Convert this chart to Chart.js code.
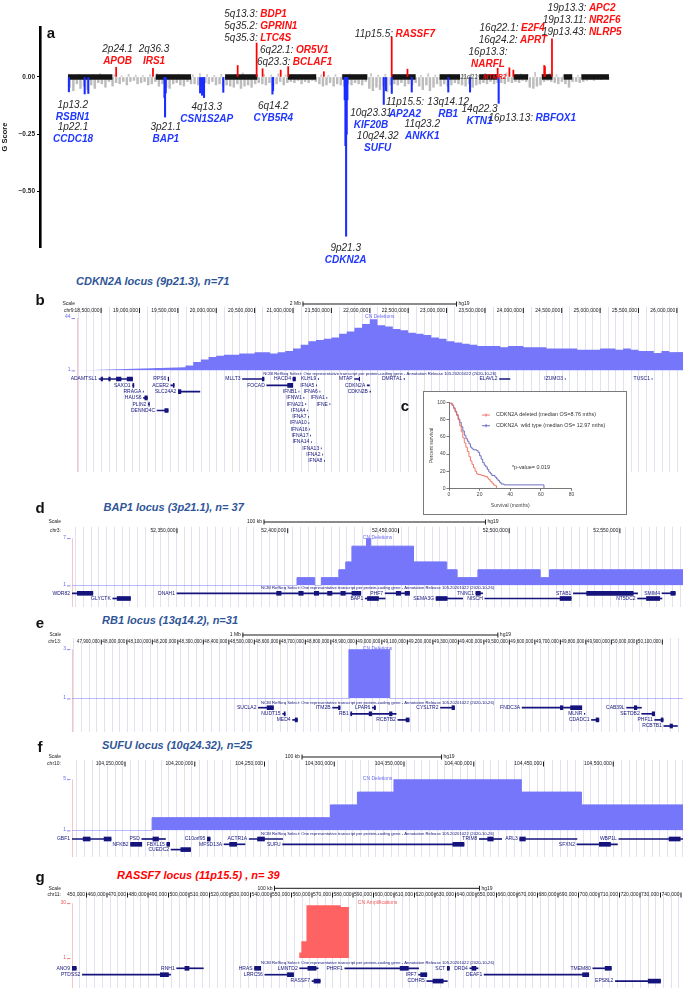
<!DOCTYPE html>
<html><head><meta charset="utf-8">
<script src="https://cdn.jsdelivr.net/npm/chart.js@4.4.1/dist/chart.umd.min.js"></script>
<style>
html,body{margin:0;padding:0;background:#fff;}
#root{position:relative;width:691px;height:992px;overflow:hidden;background:#fff;}
#root canvas{position:absolute;}
.t{position:absolute;white-space:nowrap;line-height:1;z-index:6;}
.box{position:absolute;box-sizing:border-box;border:1.5px solid #7a7a7a;background:#fff;z-index:3;}
</style></head><body><div id="root"></div>
<script>
// ================= DATA =================
// Panel a: genome-wide G score (hg19 chromosome lengths, Mb)
const chrLen = [249,243,198,191,181,171,159,146,141,136,135,134,115,107,103,90,81,78,59,63,48,51,155];
// background (non-significant) deletion G scores, one value per 20 Mb window
const grayDel = [
 -0.045,-0.06,-0.03,-0.05,-0.04,-0.055,-0.035,-0.05,-0.025,-0.03,-0.045,-0.02,-0.04,
 -0.025,-0.03,-0.02,-0.035,-0.02,-0.015,-0.03,-0.025,-0.02,-0.035,-0.03,-0.02,
 -0.04,-0.03,-0.045,-0.05,-0.03,-0.025,-0.035,-0.04,-0.02,-0.03,
 -0.03,-0.035,-0.04,-0.025,-0.03,-0.02,-0.035,-0.03,-0.04,
 -0.035,-0.04,-0.045,-0.03,-0.05,-0.04,-0.035,-0.045,-0.03,-0.025,
 -0.03,-0.035,-0.025,-0.04,-0.03,-0.02,-0.035,-0.025,
 -0.02,-0.025,-0.015,-0.03,-0.02,-0.025,-0.015,-0.02,
 -0.03,-0.04,-0.035,-0.025,-0.04,-0.03,-0.035,
 -0.04,-0.03,-0.035,-0.025,-0.03,-0.035,-0.02,
 -0.05,-0.06,-0.045,-0.055,-0.04,-0.065,-0.035,
 -0.03,-0.035,-0.025,-0.04,-0.03,-0.035,-0.025,
 -0.04,-0.055,-0.035,-0.06,-0.045,-0.03,-0.04,
 -0.03,-0.04,-0.035,-0.025,-0.03,
 -0.035,-0.04,-0.03,-0.045,-0.035,-0.03,
 -0.025,-0.03,-0.02,-0.03,-0.025,
 -0.025,-0.03,-0.02,-0.025,
 -0.02,-0.025,-0.015,-0.02,
 -0.045,-0.05,-0.04,-0.035,
 -0.02,-0.015,-0.02,
 -0.025,-0.03,-0.02,
 -0.03,-0.045,-0.02,
 -0.02,-0.025,
 -0.02,-0.015,-0.01,-0.015,-0.01,-0.012,-0.008,-0.01];
// background amplification G scores, one value per 40 Mb window
const grayAmp = [0.008,0.012,0.006,0.01,0.015,0.007,0.01,0.005,0.012,0.008,0.006,0.01,0.014,0.008,0.01,0.012,0.006,0.009,0.015,0.01,
 0.007,0.012,0.008,0.011,0.018,0.01,0.006,0.012,0.009,0.014,0.008,0.006,0.01,0.007,0.012,0.009,0.006,0.01,0.008,0.013,
 0.007,0.01,0.015,0.008,0.012,0.006,0.01,0.009,0.011,0.007,0.014,0.008,0.01,0.012,0.006,0.009,0.013,0.008,0.016,0.01,
 0.012,0.018,0.009,0.014,0.011,0.02,0.012,0.016,0.01,0.008,0.012,0.006,0.008,0.005,0.006,0.004];
// significant deletion peaks (cumulative genome position, Mb) and G score
const sigDelPos = [5,93.6,114,541,544.4,548,741,752,763,871,1146.6,1150,1552,1556,1559.9,1563,1567,1771,1783,1816,1928,2133,2255,2415.5];
const sigDelG   = [-0.065,-0.074,-0.072,-0.09,-0.175,-0.07,-0.07,-0.08,-0.09,-0.067,-0.075,-0.06,-0.1,-0.3,-0.695,-0.25,-0.1,-0.12,-0.06,-0.072,-0.066,-0.066,-0.066,-0.115];
// significant amplification peaks
const sigAmpPos = [270.2,476.6,951.7,1058,1091.3,1193,1235,1435,1815.6,1904,2409.8,2475.6,2497.9,2671,2675,2714.5];
const sigAmpG   = [0.042,0.038,0.05,0.148,0.036,0.03,0.045,0.023,0.175,0.034,0.038,0.04,0.03,0.05,0.045,0.166];
const gTickVals = [0,-0.25,-0.5];
const gTickLabels = ['0.00','\u22120.25','\u22120.50'];

// peak annotations [cytoband, gene, x, y...]
const ampInline = [['5q13.3:','BDP1',257.7,14],['5q35.2:','GPRIN1',257.7,26],['5q35.3:','LTC4S',257.7,38],
 ['6q22.1:','OR5V1',293.4,50.3],['6q23.3:','BCLAF1',290.3,61.7],['11p15.5:','RASSF7',393,34],
 ['16q22.1:','E2F4',518.5,28],['16q24.2:','APRT',517.6,40],
 ['19p13.3:','APC2',586.4,8],['19p13.11:','NR2F6',586.4,20],['19p13.43:','NLRP5',586.4,32.3]];
const ampStack = [['2p24.1','APOB',117.6,49.3,61.3],['2q36.3','IRS1',154,49.3,61.3],['16p13.3:','NARFL',488,52.3,64]];
const delStack = [['1p13.2','RSBN1',72.7,105,116.7],['1p22.1','CCDC18',73,127.3,139],['3p21.1','BAP1',165.8,127.3,139],
 ['4q13.3','CSN1S2AP',206.7,107.3,119.3],['6q14.2','CYB5R4',273.3,105.7,117.7],['9p21.3','CDKN2A',345.7,247.7,259.7],
 ['10q23.31','KIF20B',371,113.3,125.3],['10q24.32','SUFU',377.7,136,147.7],['11p15.5:','AP2A2',405,102.3,114.3],
 ['11q23.2','ANKK1',422.3,124,135.7],['13q14.12','RB1',448.2,101.7,114],['14q22.3','KTN1',479.6,109.3,121.3]];
const delInline = [['16p13.13:','RBFOX1',533,118.3]];

// Panel b: CDKN2A locus, CN deletions per 0.1 Mb bin from 18.2 Mb
const covBFirst = 18.2, covBBin = 0.1;
const covB = [1,1,1,1,1,1,1,1,1,1, 3,1,2,3,5,8,10,12,13,14, 14,15,15,16,16,15,16,17,19,22,
 25,26,27,28,31,33,36,39,43,38, 37,35,34,32,31,30,28,27,25,24, 23,22,21,21,21,20,21,21,20,20,
 20,19,19,19,19,18,18,18,19,19, 18,19,18,17,17,14,17,16,16,16];
const ticksB = [18.5,19,19.5,20,20.5,21,21.5,22,22.5,23,23.5,24,24.5,25,25.5,26];
const genesB = [['ADAMTSL1',18.474,18.911,0],['RPS6',19.376,19.380,0],['MLLT3',20.342,20.622,0],['HACD4',20.999,21.032,0],
 ['KLHL9',21.329,21.335,0],['MTAP',21.802,21.868,0],['DMRTA1',22.447,22.453,0],['ELAVL2',23.690,23.826,0],['IZUMO3',24.545,24.547,0],['TUSC1',25.676,25.678,0],
 ['SAXO1',18.911,18.927,1],['ACER2',19.409,19.452,1],['FOCAD',20.658,20.996,1],['IFNA5',21.304,21.306,1],['CDKN2A',21.967,21.995,1],
 ['RRAGA',19.049,19.051,2],['SLC24A2',19.507,19.787,2],['IFNB1',21.077,21.078,2],['IFNA6',21.350,21.351,2],['CDKN2B',22.002,22.009,2],
 ['HAUS6',19.053,19.103,3],['IFNW1',21.140,21.142,3],['IFNA1',21.440,21.441,3],
 ['PLIN2',19.116,19.128,4],['IFNA21',21.165,21.167,4],['IFNE',21.480,21.481,4],
 ['DENND4C',19.230,19.374,5],['IFNA4',21.186,21.187,5],['IFNA7',21.201,21.202,6],['IFNA10',21.206,21.207,7],['IFNA16',21.216,21.217,8],
 ['IFNA17',21.227,21.228,9],['IFNA14',21.239,21.240,10],['IFNA13',21.367,21.368,11],['IFNA2',21.384,21.385,12],['IFNA8',21.409,21.410,13]];
const exonsB = [[18.50,18.52,0],[18.60,18.62,0],[18.70,18.76,0],[18.84,18.91,0],[19.374,19.381,0],[19.07,19.103,3],[19.33,19.374,5],
 [20.60,20.622,0],[20.93,20.996,1],[21.0,21.032,0],[21.862,21.868,0],[19.507,19.54,2],[19.122,19.128,4],[18.915,18.927,1],[19.44,19.452,1]];

// Panel d: BAP1 locus (kb)
const covDStart = [52302.6,52404.2,52412.2,52415.2,52423.1,52426.2,52429,52435.6,52437.5,52456.8,52471.8,52476.5,52485.9,52514,52518.2];
const covDVal   = [1,2,1,2,3,4,6,7,6,4,3,2,3,2,3];
const ticksD = [52350,52400,52450,52500,52550];
const genesD = [['WDR82',52288,52312,0],['DNAH1',52350,52433,0],['PHF7',52444,52455,0],['TNNC1',52485,52488,0],['STAB1',52529,52558,0],['SMIM4',52569,52575,0],
 ['GLYCTK',52321,52329,1],['BAP1',52435,52444,1],['SEMA3G',52467,52479,1],['NISCH',52489,52528,1],['NT5DC2',52558,52569,1]];
const exonsD = [[52305,52312,0],[52323,52329,1],[52395,52397,0],[52405,52407,0],[52412,52414,0],[52418,52420,0],[52424,52426,0],[52429,52433,0],
 [52436,52441,1],[52449,52451,0],[52453,52455,0],[52467,52472,1],[52485,52487,0],[52523,52528,1],[52535,52556,0],[52562,52568,1],[52573,52575,0]];

// Panel e: RB1 locus (Mb)
const covEStart = [47.785,48.871,49.031];
const covEVal   = [1,3,1];
const ticksE = [47.9,48.0,48.1,48.2,48.3,48.4,48.5,48.6,48.7,48.8,48.9,49.0,49.1,49.2,49.3,49.4,49.5,49.6,49.7,49.8,49.9,50.0,50.1];
const genesE = [['SUCLA2',48.516,48.575,0],['ITM2B',48.807,48.836,0],['LPAR6',48.963,48.975,0],['CYSLTR2',49.230,49.285,0],['FNDC3A',49.550,49.784,0],['CAB39L',49.960,50.018,0],
 ['NUDT15',48.611,48.621,1],['RB1',48.878,49.056,1],['MLNR',49.794,49.796,1],['SETDB2',50.019,50.070,1],
 ['MED4',48.650,48.669,2],['RCBTB2',49.063,49.107,2],['CDADC1',49.822,49.851,2],['PHF11',50.070,50.103,2],['RCBTB1',50.106,50.159,3]];
const exonsE = [[48.55,48.575,0],[48.83,48.836,0],[48.97,48.975,0],[49.275,49.285,0],[49.70,49.71,0],[49.74,49.784,0],[49.99,50.0,0],
 [48.617,48.621,1],[48.878,48.882,1],[48.95,48.96,1],[49.03,49.04,1],[50.06,50.07,1],[48.66,48.669,2],[49.095,49.107,2],[49.84,49.851,2],[50.095,50.103,2],[50.13,50.14,3]];

// Panel f: SUFU locus (kb)
const covFStart = [104112,104169.4,104297.3,104316.6,104342.8,104434.1,104477.2];
const covFVal   = [1,2,3,4,5,4,3];
const ticksF = [104150,104200,104250,104300,104350,104400,104450,104500];
const genesF = [['GBF1',104008,104140,0],['PSD',104162,104179,0],['C10orf95',104209,104211,0],['ACTR1A',104239,104263,0],['TRIM8',104404,104420,0],['ARL3',104433,104474,0],['WBP1L',104504,104629,0],
 ['NFKB2',104154,104162,1],['FBXL15',104180,104182,1],['MFSD13A',104221,104236,1],['SUFU',104263,104393,1],['SFXN2',104474,104503,1],['CUEDC2',104183,104197,2]];
const exonsF = [[104120,104125,0],[104135,104140,0],[104170,104174,0],[104209,104211,0],[104245,104250,0],[104410,104414,0],[104433,104437,0],
 [104154,104162,1],[104180,104182,1],[104225,104230,1],[104385,104393,1],[104490,104498,1],[104190,104197,2],[104540,104548,0]];

// Panel g: RASSF7 locus (kb), CN amplifications
const covGStart = [442.93,553.8,554.8,557.3,574,578];
const covGVal   = [1,4,10,29,28,1];
const ticksG = [450,460,470,480,490,500,510,520,530,540,550,560,570,580,590,600,610,620,630,640,650,660,670,680,690,700,710,720,730,740];
const genesG = [['ANO9',430,445,0],['RNH1',494,507,0],['HRAS',532,535,0],['LMNTD2',554,563,0],['PHRF1',576,612,0],['SCT',626,627,0],['DRD4',637,641,0],['TMEM80',697,706,0],
 ['PTDSS2',448,491,1],['LRRC56',537,551,1],['IRF7',612,616,1],['DEAF1',644,695,1],['RASSF7',560,564,2],['CDHR5',616,626,2],['EPS8L2',708,730,2]];
const exonsG = [[442,445,0],[498,500,0],[532,535,0],[558,562,0],[603,607,0],[626,627,0],[638,640,0],[703,706,0],
 [486,490,1],[548,551,1],[613,616,1],[692,695,1],[561,564,2],[619,624,2],[724,730,2]];

// Panel c: Kaplan-Meier
const kmTimeDel = [0,1,2,3,4,5,6,7,8,9,10,11,12,13,14,15,16,17,18,19,21,23,25,26,27,28,29,30,31];
const kmSurvDel = [100,99,97,93,89,85,80,73,66,59,53,48,43,37,32,28,24,20,17,16,15,14,12,10,8,6,4,3,0];
const kmTimeWt  = [0,2,3,4,5,6,7,8,9,10,11,12,13,14,15,16,18,19,20,21,22,23,24,25,26,27,28,30,31,32,33,34,36,61,62];
const kmSurvWt  = [100,97,94,90,86,81,77,72,67,62,58,55,52,48,46,45,44,42,38,34,30,27,25,22,19,17,15,13,11,9,7,5,4,4,0];
const kmXTicks = [0,20,40,60,80];
const kmYTicks = [0,20,40,60,80,100];

// ================= HELPERS =================
const root = document.getElementById('root');
const NARROW = '"Liberation Sans Narrow","Liberation Sans",Arial,sans-serif';
const SANS = '"Liberation Sans",Arial,sans-serif';
const GENE = '#14147c';
const BARBLUE = 'rgb(118,118,250)';
const BARRED = 'rgb(255,98,98)';
function mkCanvas(x,y,w,h,z){const c=document.createElement('canvas');c.width=w;c.height=h;
 Object.assign(c.style,{left:x+'px',top:y+'px',width:w+'px',height:h+'px',zIndex:z||1});root.appendChild(c);return c;}
function txt(s,x,y,o){const d=document.createElement('div');d.className='t';d.textContent=s;
 const tx=o.align==='c'?'-50%':o.align==='r'?'-100%':'0';
 Object.assign(d.style,{left:x+'px',top:y+'px',fontSize:(o.size||10)+'px',fontWeight:o.bold?'bold':'normal',
  fontStyle:o.italic?'italic':'normal',color:o.color||'#000',fontFamily:o.family||SANS,transform:`translate(${tx},-50%)`});
 root.appendChild(d);}
function fmt(n){return String(Math.round(n)).replace(/\B(?=(\d{3})+(?!\d))/g,',');}
const base = {responsive:false,animation:false,devicePixelRatio:1,events:[],plugins:{legend:{display:false},tooltip:{enabled:false}}};

// ================= PANEL a =================
(function(){
 const starts=[];let acc=0;chrLen.forEach(l=>{starts.push(acc);acc+=l;});
 const bands=[];
 chrLen.forEach((l,i)=>{ if(i%2===0) bands.push({type:'line',data:[{x:starts[i],y:0},{x:starts[i]+l,y:0}],borderColor:'#141414',
   borderWidth:5.5,pointRadius:0,borderCapStyle:'butt',order:1}); });
 const c=mkCanvas(0,0,691,270,1);
 new Chart(c,{type:'bar',data:{datasets:[
   {data:grayDel.map((v,i)=>({x:10+20*i,y:v})),backgroundColor:'#bcbcbc',barThickness:1.8,grouped:false,order:3},
   {data:grayAmp.map((v,i)=>({x:20+40*i,y:v})),backgroundColor:'#c8c8c8',barThickness:1.2,grouped:false,order:3},
   ...bands,
   {data:sigDelPos.map((p,i)=>({x:p,y:sigDelG[i]})),backgroundColor:'#1a2cff',barThickness:1.4,grouped:false,order:0},
   {data:sigAmpPos.map((p,i)=>({x:p,y:sigAmpG[i]})),backgroundColor:'#ff0000',barThickness:1.1,grouped:false,order:0}
  ]},
  options:{...base,layout:{padding:{left:0,right:71,top:27,bottom:23}},
   scales:{
    x:{type:'linear',min:-157,max:3096,display:false,offset:false,grid:{offset:false}},
    y:{type:'linear',min:-0.742,max:0.218,
     afterBuildTicks:s=>{s.ticks=gTickVals.map(v=>({value:v}));},
     afterFit:s=>{s.width=40;},
     ticks:{callback:(v)=>gTickLabels[gTickVals.indexOf(v)],font:{size:6.5,weight:'bold',family:SANS},color:'#222',padding:2},
     grid:{drawOnChartArea:false,drawTicks:true,tickLength:3,color:'#000',lineWidth:1},
     border:{display:true,color:'#000',width:2.6},
     title:{display:true,text:'G Score',font:{size:7.5,weight:'bold',family:SANS},color:'#111',padding:{top:0,bottom:0}}}
   }}
 });
 const CY='#2a2a2a', RED='#ff1010', BLU='#1f37ff';
 const L=(s,x,y,col,b,al)=>txt(s,x,y,{size:10,bold:b,italic:true,color:col,align:al,family:NARROW});
 ampInline.forEach(([cb,g,x,y])=>{L(cb,x,y,CY,false,'r');L(g,x+2.5,y,RED,true,'l');});
 ampStack.forEach(([cb,g,x,y1,y2])=>{L(cb,x,y1,CY,false,'c');L(g,x,y2,RED,true,'c');});
 delStack.forEach(([cb,g,x,y1,y2])=>{L(cb,x,y1,CY,false,'c');L(g,x,y2,BLU,true,'c');});
 delInline.forEach(([cb,g,x,y])=>{L(cb,x,y,CY,false,'r');L(g,x+2.5,y,BLU,true,'l');});
 txt('11q21',469,76.7,{size:6.5,italic:true,color:'#444',align:'c',family:NARROW});
 txt('MTMR2',494.7,76.7,{size:6.5,italic:true,bold:true,color:RED,align:'c',family:NARROW});
})();

// ================= UCSC PANELS =================
const NCBI='NCBI RefSeq Select: One representative transcript per protein-coding gene - Annotation Release 105.20201022 (2020-10-26)';
function ucsc(p){
 const g=mkCanvas(0,p.top,691,p.height,1);
 const rmin=-(p.rowY0-p.top)/p.rowH, rmax=rmin+p.height/p.rowH;
 new Chart(g,{type:'bar',data:{datasets:[
   {data:p.genes.map(a=>({x:[a[1],a[2]],y:a[3]})),backgroundColor:GENE,barThickness:1,grouped:false},
   {data:p.exons.map(a=>({x:[a[0],a[1]],y:a[2]})),backgroundColor:GENE,barThickness:4,grouped:false}]},
  options:{...base,indexAxis:'y',layout:{padding:{left:p.left,right:691-p.right,top:0,bottom:0}},
   scales:{x:{type:'linear',min:p.min,max:p.max,display:false,offset:false},y:{type:'linear',min:rmin,max:rmax,reverse:true,display:false,offset:false}}},
  plugins:[{id:'ucsc',
   beforeDatasetsDraw(ch){const ctx=ch.ctx,xs=ch.scales.x;ctx.save();ctx.fillStyle='rgba(175,175,215,0.38)';
    for(let k=Math.ceil(p.min/p.step);k*p.step<=p.max;k++){const px=Math.round(xs.getPixelForValue(k*p.step));ctx.fillRect(px,p.tickY-p.top-4,1,p.height);}
    ctx.fillStyle='rgba(240,150,150,0.55)';ctx.fillRect(Math.round(ch.chartArea.left),p.covTop-p.top,1,p.height);ctx.restore();},
   afterDatasetsDraw(ch){const ctx=ch.ctx,xs=ch.scales.x,ys=ch.scales.y,ca=ch.chartArea;ctx.save();
    ctx.font=p.tickFont+'px '+SANS;ctx.fillStyle='#1a1a1a';ctx.textBaseline='middle';ctx.textAlign='right';
    const sy=p.scaleY-p.top, ty=p.tickY-p.top;
    ctx.fillText('Scale',p.labelX,sy);ctx.fillText(p.chr,p.labelX,ty);
    p.ticks.forEach(t=>{const px=xs.getPixelForValue(t);ctx.fillText(fmt(t*p.unit),px-1.5,ty);ctx.fillRect(px-0.5,ty-2.5,1,5);});
    const a=xs.getPixelForValue(p.bar[0]),b=xs.getPixelForValue(p.bar[1]);
    ctx.fillRect(a,sy-0.5,b-a,1);ctx.fillRect(a-0.5,sy-2.5,1,5);ctx.fillRect(b-0.5,sy-2.5,1,5);
    ctx.font='5px '+SANS;ctx.fillText(p.barText,a-2,sy);ctx.textAlign='left';ctx.fillText('hg19',b+2,sy);
    ctx.font='4.2px '+SANS;ctx.fillStyle=GENE;ctx.textAlign='center';ctx.fillText(NCBI,(ca.left+ca.right)/2,p.rowY0-5-p.top);
    ctx.font='5px '+SANS;ctx.textAlign='right';
    p.genes.forEach(a=>{const px=Math.max(xs.getPixelForValue(a[1]),ca.left);ctx.fillText(a[0],px-2,ys.getPixelForValue(a[3]));});
    ctx.restore();}}]
 });
 const cv=mkCanvas(0,p.cTop,691,p.cH,2);
 const pts=p.covStart.map((s,i)=>({x:s,y:p.covVal[i]}));pts.push({x:p.max,y:p.covVal[p.covVal.length-1]});
 new Chart(cv,{type:'line',data:{datasets:[{data:pts,stepped:'before',fill:'start',backgroundColor:p.color,borderColor:p.color,borderWidth:p.bw,pointRadius:0}]},
  options:{...base,layout:{padding:{left:p.left,right:691-p.right,top:p.covTop-p.cTop,bottom:p.cTop+p.cH-p.covBottom}},
   scales:{x:{type:'linear',min:p.min,max:p.max,display:false},y:{type:'linear',min:1,max:p.ymax,display:false}}},
  plugins:[{id:'covlab',afterDraw(ch){const ctx=ch.ctx,ys=ch.scales.y,ca=ch.chartArea;ctx.save();
   ctx.font='5px '+SANS;ctx.fillStyle=p.labColor;ctx.textBaseline='middle';ctx.textAlign='right';
   [p.ymax,1].forEach(v=>{const y=ys.getPixelForValue(v);ctx.fillText(String(v),ca.left-6,y-1);ctx.fillRect(ca.left-5,y,3.5,0.8);});
   ctx.textAlign='center';ctx.fillText(p.title,(ca.left+ca.right)/2,ys.getPixelForValue(p.ymax)-1);ctx.restore();}}]
 });
}
const covBStart=[18.18].concat(covB.map((v,i)=>covBFirst+covBBin*i));
const covBVal=[1].concat(covB);
ucsc({top:297,height:175,left:76.5,right:683,min:18.18,max:26.08,step:0.1,unit:1e6,chr:'chr9:',scaleY:304,tickY:310.5,labelX:75,tickFont:5,
 ticks:ticksB,bar:[21.13,23.13],barText:'2 Mb',rowY0:379,rowH:6.3,genes:genesB,exons:exonsB,
 cTop:312,cH:62,covTop:318,covBottom:370.5,ymax:44,covStart:covBStart,covVal:covBVal,color:BARBLUE,labColor:'#6a6af0',bw:0,title:'CN Deletions'});
ucsc({top:517,height:90,left:72,right:683,min:52302.6,max:52578.5,step:3.5,unit:1e3,chr:'chr3:',scaleY:522,tickY:530.7,labelX:61,tickFont:5,
 ticks:ticksD,bar:[52389.3,52489.3],barText:'100 kb',rowY0:593.3,rowH:5.2,genes:genesD,exons:exonsD,
 cTop:533,cH:56,covTop:538.3,covBottom:585.5,ymax:7,covStart:covDStart,covVal:covDVal,color:BARBLUE,labColor:'#6a6af0',bw:1,title:'CN Deletions'});
ucsc({top:629,height:103,left:72,right:683,min:47.785,max:50.181,step:0.03,unit:1e6,chr:'chr13:',scaleY:635,tickY:642,labelX:61,tickFont:4.6,
 ticks:ticksE,bar:[48.455,49.455],barText:'1 Mb',rowY0:707.7,rowH:6.1,genes:genesE,exons:exonsE,
 cTop:644,cH:58,covTop:649.3,covBottom:698.5,ymax:3,covStart:covEStart,covVal:covEVal,color:BARBLUE,labColor:'#6a6af0',bw:1,title:'CN Deletions'});
ucsc({top:751,height:106,left:72,right:683,min:104112,max:104550,step:5.5,unit:1e3,chr:'chr10:',scaleY:757,tickY:764,labelX:61,tickFont:5,
 ticks:ticksF,bar:[104276.9,104376.9],barText:'100 kb',rowY0:839,rowH:5.3,genes:genesF,exons:exonsF,
 cTop:774,cH:60,covTop:779.3,covBottom:830.5,ymax:5,covStart:covFStart,covVal:covFVal,color:BARBLUE,labColor:'#6a6af0',bw:1,title:'CN Deletions'});
ucsc({top:881,height:107,left:72,right:683,min:442.93,max:740.98,step:3.75,unit:1e3,chr:'chr11:',scaleY:888.3,tickY:895,labelX:61,tickFont:5,
 ticks:ticksG,bar:[541.7,641.7],barText:'100 kb',rowY0:968.3,rowH:6.4,genes:genesG,exons:exonsG,
 cTop:898,cH:64,covTop:903.3,covBottom:958.3,ymax:30,covStart:covGStart,covVal:covGVal,color:BARRED,labColor:'#f05a5a',bw:0,title:'CN Amplifications'});

// ================= PANEL c (KM) =================
(function(){
 const box=document.createElement('div');box.className='box';
 Object.assign(box.style,{left:'423px',top:'391px',width:'204px',height:'124px'});root.appendChild(box);
 const c=mkCanvas(423,391,204,124,4);
 const F={size:5,family:SANS};
 new Chart(c,{type:'line',data:{datasets:[
   {data:kmTimeDel.map((t,i)=>({x:t,y:kmSurvDel[i]})),stepped:'before',borderColor:'#ee6b5c',borderWidth:0.9,pointRadius:0,fill:false},
   {data:kmTimeWt.map((t,i)=>({x:t,y:kmSurvWt[i]})),stepped:'before',borderColor:'#5d5db4',borderWidth:0.9,pointRadius:0,fill:false}]},
  options:{...base,layout:{padding:{left:0,right:55.5,top:11.7,bottom:0}},
   scales:{
    x:{type:'linear',min:0,max:80,afterBuildTicks:s=>{s.ticks=kmXTicks.map(v=>({value:v}));},afterFit:s=>{s.height=26.7;},
     ticks:{font:F,color:'#444',padding:1,maxRotation:0},grid:{drawOnChartArea:false,tickLength:2.5,color:'#555',lineWidth:0.8},
     border:{color:'#555',width:0.8},title:{display:true,text:'Survival (months)',font:F,color:'#444',padding:{top:0,bottom:6}}},
    y:{min:0,max:100,afterBuildTicks:s=>{s.ticks=kmYTicks.map(v=>({value:v}));},afterFit:s=>{s.width=26;},
     ticks:{font:F,color:'#444',padding:1},grid:{drawOnChartArea:false,tickLength:2.5,color:'#555',lineWidth:0.8},
     border:{color:'#555',width:0.8},title:{display:true,text:'Percent survival',font:F,color:'#444',padding:{top:6,bottom:0}}}}},
  plugins:[{id:'kmleg',afterDraw(ch){const ctx=ch.ctx;ctx.save();ctx.font='5.4px '+SANS;ctx.textBaseline='middle';
   [['#ee6b5c','CDKN2A deleted (median OS=8.76 mths)',24],['#5d5db4','CDKN2A  wild type (median OS= 12.97 mths)',34.7]].forEach(([col,s,y])=>{
    ctx.fillStyle=col;ctx.fillRect(59,y-0.4,8,0.9);ctx.fillRect(62.6,y-1.6,0.9,3.2);ctx.fillStyle='#333';ctx.fillText(s,73,y);});
   ctx.fillStyle='#333';ctx.fillText('*p-value= 0.019',89,77);ctx.restore();}}]
 });
})();

// ================= TITLES & LETTERS =================
const TT={size:11,bold:true,italic:true,family:NARROW};
txt('CDKN2A locus (9p21.3), n=71',76,281,{...TT,color:'#2f5597'});
txt('BAP1 locus (3p21.1), n= 37',103.5,507,{...TT,color:'#2f5597'});
txt('RB1 locus (13q14.2), n=31',102,620,{...TT,color:'#2f5597'});
txt('SUFU locus (10q24.32), n=25',102,745,{...TT,color:'#2f5597'});
txt('RASSF7 locus (11p15.5) , n= 39',117,875,{...TT,color:'#ff0000'});
const LT={size:15,bold:true,color:'#111',align:'c'};
txt('a',51,32,LT);txt('b',40,299,LT);txt('c',405,405,LT);txt('d',40,507,LT);txt('e',40,622,LT);txt('f',40,746,LT);txt('g',40,876,LT);
</script></body></html>
